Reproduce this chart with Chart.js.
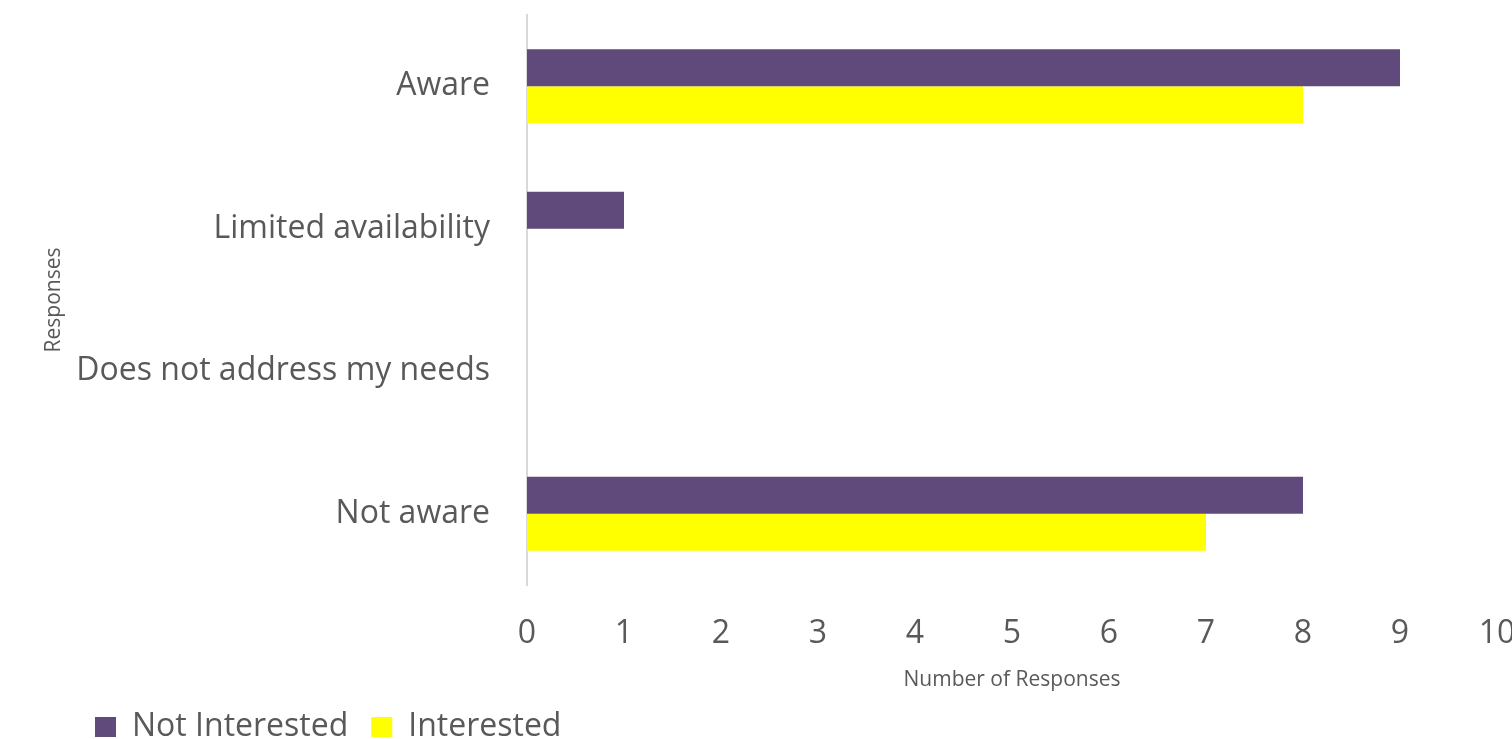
<!DOCTYPE html>
<html>
<head>
<meta charset="utf-8">
<script src="https://cdn.jsdelivr.net/npm/chart.js@4"></script>
<style>
  html, body { margin: 0; padding: 0; background: #fff; }
  #wrap { width: 1512px; height: 739px; position: relative; }
</style>
</head>
<body>
<div id="wrap"><canvas id="myChart"></canvas></div>
<script>
const categories = ['Aware', 'Limited availability', 'Does not address my needs', 'Not aware'];
const notInterested = [9, 1, 0, 8];
const interested = [8, 0, 0, 7];
const xTicks = [0, 1, 2, 3, 4, 5, 6, 7, 8, 9, 10];

const textColor = '#595959';
const fontFamily = '"Open Sans", sans-serif';

const ctx = document.getElementById('myChart').getContext('2d');
new Chart(ctx, {
    type: 'bar',
    data: {
        labels: categories,
        datasets: [{
            label: 'Not Interested',
            data: notInterested,
            backgroundColor: '#604A7B',
            borderWidth: 0,
        }, {
            label: 'Interested',
            data: interested,
            backgroundColor: '#FFFF00',
            borderWidth: 0,
        }]
    },
    options: {
        indexAxis: 'y',
        responsive: true,
        maintainAspectRatio: false,
        animation: false,
        datasets: {
            bar: { categoryPercentage: 0.52, barPercentage: 1.0 }
        },
        layout: {
            padding: { top: 15, right: 15, left: 72, bottom: -14 }
        },
        plugins: {
            tooltip: { enabled: false },
            legend: {
                position: 'bottom',
                align: 'start',
                labels: {
                    boxWidth: 21,
                    boxHeight: 20,
                    padding: 23,
                    color: textColor,
                    font: { family: fontFamily, size: 32 }
                }
            }
        },
        scales: {
            x: {
                type: 'linear',
                min: 0,
                max: 10,
                afterBuildTicks: (scale) => { scale.ticks = xTicks.map(v => ({ value: v })); },
                afterFit: (scale) => {
                    // keep the plot edge at 10 so its label runs off the canvas as in the original
                    scale.height = 103;
                    scale.paddingLeft = 0;
                    scale.paddingRight = 0;
                },
                grid: { display: false, drawTicks: false },
                border: { display: false },
                ticks: {
                    color: textColor,
                    padding: 30,
                    font: { family: fontFamily, size: 32 }
                },
                title: {
                    display: true,
                    text: 'Number of Responses',
                    color: textColor,
                    padding: { top: 0, bottom: -5 },
                    font: { family: fontFamily, size: 21 }
                }
            },
            y: {
                afterFit: (scale) => {
                    scale.width = 455;
                    scale.paddingTop = 0;
                    scale.paddingBottom = 0;
                },
                grid: { display: false, drawTicks: false },
                border: { display: true, color: '#D9D9D9', width: 2 },
                ticks: {
                    color: textColor,
                    padding: 37,
                    font: { family: fontFamily, size: 32 }
                },
                title: {
                    display: true,
                    text: 'Responses',
                    color: textColor,
                    padding: { top: -31, bottom: 0 },
                    font: { family: fontFamily, size: 21 }
                }
            }
        }
    }
});
</script>
</body>
</html>
